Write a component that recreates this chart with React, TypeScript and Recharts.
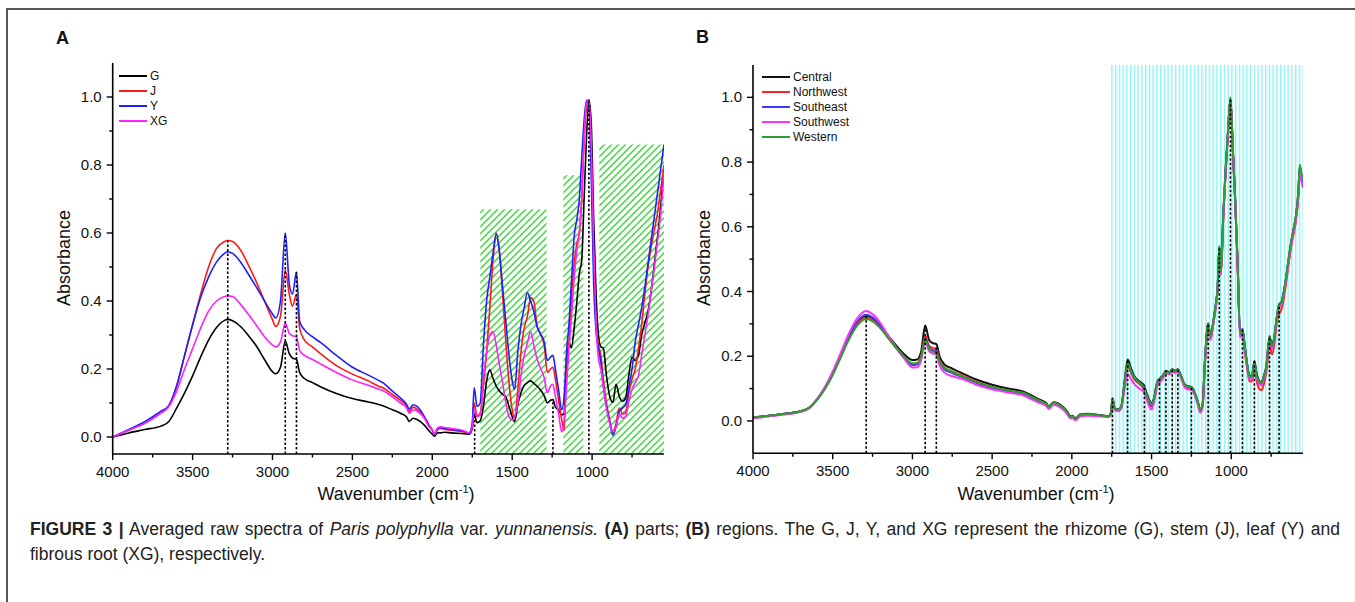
import React from "react";
import {
  LineChart,
  Line,
  XAxis,
  YAxis,
  ReferenceArea,
  ReferenceLine,
  Legend,
} from "recharts";

const FONT = '"Liberation Sans", Arial, Helvetica, sans-serif';

// ---- panel A: parts (G rhizome, J stem, Y leaf, XG fibrous root) ----
const wnA = [
  4000, 3900, 3800, 3700, 3650, 3600, 3550, 3500, 3450, 3400,
  3350, 3300, 3280, 3250, 3200, 3150, 3100, 3050, 3000, 2980,
  2950, 2920, 2895, 2875, 2850, 2830, 2800, 2750, 2700, 2600,
  2500, 2400, 2330, 2310, 2250, 2200, 2160, 2145, 2120, 2090,
  2050, 2020, 2000, 1985, 1970, 1950, 1920, 1880, 1800, 1770,
  1750, 1738, 1720, 1700, 1680, 1660, 1640, 1620, 1600, 1580,
  1560, 1540, 1520, 1500, 1485, 1465, 1445, 1425, 1405, 1385,
  1365, 1345, 1325, 1300, 1280, 1260, 1245, 1230, 1210, 1190,
  1175, 1160, 1145, 1130, 1110, 1095, 1080, 1065, 1050, 1035,
  1020, 1005, 990, 975, 960, 945, 930, 910, 890, 870,
  850, 830, 810, 790, 770, 750, 730, 710, 690, 670,
  650, 630, 610, 590, 570, 550,
];

const gA = [
  0.000, 0.012, 0.022, 0.032, 0.045, 0.085, 0.130, 0.180, 0.235, 0.285,
  0.322, 0.343, 0.346, 0.342, 0.325, 0.298, 0.267, 0.228, 0.192, 0.186,
  0.205, 0.282, 0.245, 0.232, 0.228, 0.190, 0.172, 0.160, 0.148, 0.128,
  0.113, 0.103, 0.095, 0.092, 0.080, 0.070, 0.058, 0.046, 0.055, 0.050,
  0.035, 0.018, 0.008, 0.002, 0.012, 0.012, 0.014, 0.012, 0.010, 0.008,
  0.025, 0.068, 0.042, 0.048, 0.090, 0.165, 0.198, 0.172, 0.150, 0.135,
  0.125, 0.118, 0.090, 0.060, 0.045, 0.095, 0.130, 0.152, 0.160, 0.165,
  0.158, 0.150, 0.140, 0.122, 0.100, 0.108, 0.110, 0.088, 0.080, 0.065,
  0.070, 0.200, 0.280, 0.262, 0.330, 0.400, 0.480, 0.520, 0.700, 0.880,
  0.992, 0.920, 0.640, 0.420, 0.300, 0.265, 0.262, 0.180, 0.120, 0.102,
  0.155, 0.120, 0.105, 0.115, 0.182, 0.235, 0.225, 0.240, 0.300, 0.335,
  0.370, 0.430, 0.510, 0.590, 0.680, 0.790,
];

const jA = [
  0.000, 0.020, 0.040, 0.070, 0.090, 0.150, 0.240, 0.330, 0.420, 0.500,
  0.555, 0.575, 0.578, 0.575, 0.550, 0.505, 0.455, 0.400, 0.345, 0.325,
  0.355, 0.490, 0.420, 0.385, 0.420, 0.320, 0.285, 0.265, 0.245, 0.210,
  0.185, 0.165, 0.148, 0.145, 0.125, 0.108, 0.090, 0.075, 0.088, 0.080,
  0.060, 0.035, 0.020, 0.005, 0.020, 0.025, 0.022, 0.020, 0.015, 0.012,
  0.035, 0.100, 0.062, 0.070, 0.150, 0.250, 0.380, 0.520, 0.600, 0.545,
  0.420, 0.280, 0.160, 0.080, 0.055, 0.140, 0.250, 0.320, 0.355, 0.410,
  0.400, 0.330, 0.305, 0.270, 0.190, 0.200, 0.205, 0.170, 0.110, 0.050,
  0.020, 0.200, 0.280, 0.400, 0.520, 0.570, 0.600, 0.700, 0.870, 0.970,
  0.993, 0.820, 0.520, 0.330, 0.270, 0.240, 0.170, 0.100, 0.050, 0.008,
  0.040, 0.085, 0.068, 0.072, 0.130, 0.170, 0.200, 0.260, 0.330, 0.420,
  0.500, 0.560, 0.610, 0.660, 0.730, 0.800,
];

const yA = [
  0.000, 0.022, 0.045, 0.075, 0.092, 0.150, 0.240, 0.330, 0.410, 0.470,
  0.515, 0.540, 0.545, 0.540, 0.515, 0.478, 0.440, 0.400, 0.362, 0.350,
  0.400, 0.600, 0.450, 0.420, 0.485, 0.340, 0.315, 0.295, 0.278, 0.240,
  0.205, 0.182, 0.165, 0.160, 0.135, 0.115, 0.095, 0.082, 0.095, 0.088,
  0.060, 0.032, 0.020, 0.008, 0.022, 0.028, 0.025, 0.022, 0.016, 0.010,
  0.040, 0.145, 0.090, 0.100, 0.270, 0.400, 0.470, 0.540, 0.596, 0.545,
  0.440, 0.340, 0.240, 0.165, 0.140, 0.250, 0.330, 0.380, 0.425, 0.400,
  0.370, 0.325, 0.305, 0.280, 0.225, 0.235, 0.240, 0.200, 0.140, 0.080,
  0.120, 0.250, 0.330, 0.450, 0.600, 0.640, 0.700, 0.820, 0.930, 0.990,
  0.985, 0.760, 0.450, 0.310, 0.260, 0.220, 0.150, 0.090, 0.045, 0.005,
  0.030, 0.075, 0.085, 0.095, 0.145, 0.200, 0.280, 0.330, 0.380, 0.440,
  0.510, 0.580, 0.650, 0.720, 0.790, 0.860,
];

const xgA = [
  0.000, 0.020, 0.040, 0.070, 0.088, 0.135, 0.200, 0.260, 0.320, 0.370,
  0.400, 0.413, 0.415, 0.413, 0.390, 0.360, 0.328, 0.295, 0.270, 0.265,
  0.280, 0.335, 0.305, 0.298, 0.295, 0.255, 0.240, 0.228, 0.215, 0.190,
  0.168, 0.152, 0.140, 0.137, 0.118, 0.100, 0.085, 0.070, 0.080, 0.075,
  0.055, 0.030, 0.022, 0.010, 0.025, 0.030, 0.028, 0.025, 0.018, 0.012,
  0.030, 0.080, 0.060, 0.065, 0.170, 0.250, 0.300, 0.310, 0.270, 0.210,
  0.160, 0.100, 0.060, 0.050, 0.060, 0.100, 0.180, 0.240, 0.275, 0.310,
  0.270, 0.230, 0.205, 0.175, 0.130, 0.150, 0.155, 0.120, 0.070, 0.015,
  0.050, 0.150, 0.260, 0.350, 0.480, 0.550, 0.600, 0.700, 0.880, 0.985,
  0.990, 0.860, 0.550, 0.330, 0.230, 0.200, 0.150, 0.085, 0.040, 0.015,
  0.030, 0.070, 0.055, 0.060, 0.105, 0.140, 0.160, 0.180, 0.240, 0.300,
  0.360, 0.430, 0.500, 0.580, 0.660, 0.780,
];

const seriesA = ["G", "J", "Y", "XG"];
const colorsA = ["#000000", "#ff1a1a", "#1f1fff", "#ff22ff"];

// hatched bands and marked peaks in A
const hatchFrom = [1700, 1180, 955];
const hatchTo = [1285, 1055, 550];
const hatchTop = [0.67, 0.77, 0.86];
const peaksA = [3280, 2920, 2850, 1735, 1245, 1020];
const peakTopA = [0.578, 0.6, 0.485, 0.068, 0.11, 0.992];

// ---- panel B: regions ----
const wnB = [
  4000, 3900, 3800, 3700, 3650, 3600, 3550, 3500, 3450, 3400,
  3350, 3290, 3250, 3200, 3150, 3100, 3050, 3000, 2970, 2945,
  2920, 2895, 2870, 2850, 2830, 2800, 2750, 2700, 2600, 2500,
  2400, 2330, 2310, 2250, 2200, 2160, 2145, 2115, 2090, 2060,
  2030, 2010, 1995, 1980, 1965, 1950, 1900, 1820, 1770, 1755,
  1745, 1730, 1710, 1690, 1670, 1650, 1630, 1610, 1590, 1570,
  1550, 1530, 1515, 1500, 1485, 1465, 1450, 1430, 1410, 1390,
  1370, 1350, 1335, 1315, 1295, 1275, 1250, 1230, 1210, 1195,
  1180, 1165, 1145, 1130, 1115, 1100, 1085, 1075, 1065, 1050,
  1035, 1020, 1005, 990, 975, 960, 945, 930, 915, 900,
  885, 870, 855, 840, 825, 810, 795, 780, 760, 745,
  730, 715, 700, 685, 670, 655, 640, 625, 610, 595,
  580, 570, 560, 550,
];

const central = [
  0.010, 0.016, 0.022, 0.030, 0.040, 0.065, 0.100, 0.145, 0.200, 0.255,
  0.300, 0.325, 0.318, 0.295, 0.262, 0.232, 0.205, 0.188, 0.190, 0.215,
  0.295, 0.250, 0.240, 0.238, 0.200, 0.175, 0.162, 0.150, 0.128, 0.112,
  0.100, 0.094, 0.092, 0.078, 0.065, 0.055, 0.045, 0.058, 0.055, 0.045,
  0.030, 0.015, 0.016, 0.008, 0.012, 0.020, 0.022, 0.018, 0.015, 0.025,
  0.070, 0.038, 0.036, 0.045, 0.120, 0.190, 0.165, 0.140, 0.128, 0.120,
  0.112, 0.085, 0.065, 0.055, 0.070, 0.120, 0.130, 0.140, 0.155, 0.150,
  0.160, 0.155, 0.160, 0.140, 0.115, 0.108, 0.105, 0.088, 0.060, 0.035,
  0.050, 0.190, 0.302, 0.262, 0.300, 0.350, 0.420, 0.540, 0.460, 0.640,
  0.780, 0.900, 0.998, 0.840, 0.680, 0.490, 0.270, 0.282, 0.230, 0.175,
  0.138, 0.140, 0.185, 0.145, 0.125, 0.120, 0.140, 0.170, 0.262, 0.235,
  0.260, 0.320, 0.360, 0.368, 0.400, 0.446, 0.500, 0.550, 0.590, 0.630,
  0.700, 0.787, 0.760, 0.735,
];

const northwest = [
  0.010, 0.016, 0.022, 0.030, 0.040, 0.066, 0.102, 0.148, 0.202, 0.255,
  0.298, 0.320, 0.312, 0.288, 0.255, 0.224, 0.196, 0.176, 0.178, 0.200,
  0.265, 0.232, 0.225, 0.222, 0.188, 0.165, 0.153, 0.142, 0.121, 0.105,
  0.094, 0.088, 0.087, 0.073, 0.061, 0.051, 0.042, 0.055, 0.052, 0.042,
  0.028, 0.013, 0.014, 0.006, 0.010, 0.018, 0.020, 0.017, 0.014, 0.023,
  0.065, 0.036, 0.034, 0.042, 0.110, 0.170, 0.150, 0.130, 0.120, 0.112,
  0.100, 0.075, 0.052, 0.045, 0.062, 0.112, 0.122, 0.135, 0.150, 0.146,
  0.154, 0.150, 0.155, 0.136, 0.110, 0.102, 0.100, 0.084, 0.055, 0.030,
  0.045, 0.180, 0.290, 0.255, 0.292, 0.342, 0.412, 0.530, 0.452, 0.630,
  0.772, 0.892, 0.995, 0.836, 0.672, 0.480, 0.262, 0.270, 0.215, 0.160,
  0.122, 0.122, 0.165, 0.122, 0.100, 0.095, 0.115, 0.150, 0.240, 0.205,
  0.235, 0.300, 0.330, 0.345, 0.380, 0.430, 0.485, 0.535, 0.575, 0.615,
  0.690, 0.770, 0.745, 0.730,
];

const southeast = [
  0.010, 0.016, 0.022, 0.030, 0.040, 0.066, 0.102, 0.150, 0.205, 0.260,
  0.305, 0.328, 0.320, 0.295, 0.258, 0.225, 0.194, 0.172, 0.174, 0.196,
  0.255, 0.225, 0.218, 0.215, 0.182, 0.160, 0.148, 0.138, 0.118, 0.102,
  0.092, 0.086, 0.085, 0.071, 0.060, 0.050, 0.041, 0.054, 0.051, 0.041,
  0.027, 0.012, 0.013, 0.006, 0.010, 0.018, 0.020, 0.017, 0.014, 0.023,
  0.066, 0.036, 0.034, 0.043, 0.112, 0.175, 0.155, 0.135, 0.125, 0.116,
  0.106, 0.080, 0.058, 0.050, 0.066, 0.116, 0.126, 0.137, 0.152, 0.148,
  0.157, 0.152, 0.157, 0.138, 0.113, 0.106, 0.103, 0.086, 0.058, 0.033,
  0.048, 0.186, 0.298, 0.260, 0.298, 0.348, 0.418, 0.536, 0.458, 0.636,
  0.776, 0.896, 0.995, 0.838, 0.676, 0.486, 0.268, 0.285, 0.228, 0.172,
  0.135, 0.135, 0.180, 0.140, 0.120, 0.115, 0.135, 0.165, 0.255, 0.228,
  0.255, 0.315, 0.355, 0.365, 0.398, 0.444, 0.498, 0.548, 0.588, 0.628,
  0.698, 0.780, 0.752, 0.730,
];

const southwest = [
  0.008, 0.014, 0.020, 0.028, 0.038, 0.066, 0.104, 0.152, 0.210, 0.268,
  0.315, 0.340, 0.330, 0.302, 0.262, 0.226, 0.192, 0.165, 0.166, 0.188,
  0.245, 0.215, 0.208, 0.205, 0.172, 0.150, 0.138, 0.132, 0.112, 0.098,
  0.088, 0.082, 0.080, 0.066, 0.055, 0.046, 0.037, 0.050, 0.047, 0.037,
  0.022, 0.008, 0.010, 0.002, 0.006, 0.014, 0.016, 0.014, 0.012, 0.020,
  0.060, 0.032, 0.030, 0.038, 0.095, 0.145, 0.130, 0.115, 0.105, 0.098,
  0.090, 0.065, 0.045, 0.035, 0.055, 0.105, 0.118, 0.130, 0.148, 0.144,
  0.152, 0.148, 0.152, 0.132, 0.106, 0.098, 0.096, 0.080, 0.050, 0.025,
  0.040, 0.175, 0.280, 0.250, 0.290, 0.340, 0.410, 0.528, 0.450, 0.628,
  0.770, 0.892, 0.995, 0.834, 0.670, 0.478, 0.258, 0.270, 0.220, 0.165,
  0.128, 0.130, 0.170, 0.132, 0.115, 0.110, 0.130, 0.160, 0.250, 0.222,
  0.250, 0.310, 0.350, 0.360, 0.392, 0.436, 0.488, 0.540, 0.580, 0.620,
  0.688, 0.770, 0.740, 0.720,
];

const western = [
  0.010, 0.016, 0.022, 0.030, 0.040, 0.064, 0.098, 0.142, 0.196, 0.250,
  0.292, 0.315, 0.308, 0.286, 0.255, 0.226, 0.198, 0.178, 0.179, 0.200,
  0.250, 0.222, 0.214, 0.210, 0.184, 0.164, 0.152, 0.140, 0.120, 0.105,
  0.095, 0.089, 0.088, 0.074, 0.062, 0.052, 0.043, 0.056, 0.053, 0.043,
  0.028, 0.013, 0.014, 0.006, 0.010, 0.019, 0.021, 0.017, 0.014, 0.024,
  0.068, 0.037, 0.035, 0.044, 0.115, 0.180, 0.158, 0.136, 0.125, 0.116,
  0.107, 0.080, 0.060, 0.052, 0.068, 0.118, 0.128, 0.138, 0.153, 0.149,
  0.158, 0.153, 0.158, 0.139, 0.114, 0.107, 0.104, 0.087, 0.059, 0.034,
  0.049, 0.188, 0.300, 0.262, 0.300, 0.350, 0.420, 0.540, 0.462, 0.642,
  0.782, 0.902, 1.000, 0.842, 0.680, 0.488, 0.270, 0.282, 0.230, 0.175,
  0.136, 0.138, 0.178, 0.140, 0.122, 0.118, 0.138, 0.168, 0.258, 0.232,
  0.258, 0.318, 0.358, 0.366, 0.400, 0.448, 0.502, 0.552, 0.592, 0.634,
  0.705, 0.792, 0.765, 0.745,
];

const seriesB = ["Central", "Northwest", "Southeast", "Southwest", "Western"];
const colorsB = ["#111111", "#ff2222", "#3a3aff", "#ff33ff", "#2e9e2e"];

const stripeFrom = 1755;
const peaksB = [3290, 2920, 2850, 1745, 1650, 1545, 1450, 1410, 1370, 1335, 1250, 1145, 1075, 1005, 930, 855, 760, 700];
const peakTopB = [0.33, 0.295, 0.238, 0.07, 0.19, 0.112, 0.13, 0.155, 0.16, 0.16, 0.105, 0.302, 0.54, 0.998, 0.282, 0.185, 0.262, 0.36];

// ticks
const xTicks = [4000, 3750, 3500, 3250, 3000, 2750, 2500, 2250, 2000, 1750, 1500, 1250, 1000, 750];
const yTicks = [0, 0.1, 0.2, 0.3, 0.4, 0.5, 0.6, 0.7, 0.8, 0.9, 1.0];

const dataA = wnA.map((w, i) => ({ w, G: gA[i], J: jA[i], Y: yA[i], XG: xgA[i] }));
const dataB = wnB.map((w, i) => ({
  w,
  Central: central[i],
  Northwest: northwest[i],
  Southeast: southeast[i],
  Southwest: southwest[i],
  Western: western[i],
}));

const XTick = (props: any) => {
  const { x, y, payload } = props;
  const major = payload.value % 500 === 0;
  return (
    <g>
      <line x1={x} x2={x} y1={y} y2={y + (major ? 6 : 3.5)} stroke="#000" strokeWidth={1.4} />
      {major && (
        <text x={x} y={y + 23} textAnchor="middle" fontSize={15} fontFamily={FONT} fill="#111">
          {payload.value}
        </text>
      )}
    </g>
  );
};

const YTick = (props: any) => {
  const { x, y, payload } = props;
  const major = Math.round(payload.value * 10) % 2 === 0;
  return (
    <g>
      <line x1={x} x2={x - (major ? 6 : 3.5)} y1={y} y2={y} stroke="#000" strokeWidth={1.4} />
      {major && (
        <text x={x - 11} y={y + 5} textAnchor="end" fontSize={15} fontFamily={FONT} fill="#111">
          {payload.value.toFixed(1)}
        </text>
      )}
    </g>
  );
};

// legend keeps the series order instead of sorting by name
const makeLegend = (order: string[]) => (props: any) => {
  const items = [...(props.payload || [])].sort(
    (a: any, b: any) => order.indexOf(a.value) - order.indexOf(b.value)
  );
  return (
    <div style={{ fontFamily: FONT, fontSize: 12, lineHeight: "15px", color: "#111" }}>
      {items.map((e: any) => (
        <div key={e.value} style={{ display: "flex", alignItems: "center", whiteSpace: "nowrap" }}>
          <span style={{ display: "inline-block", width: 28, height: 2, background: e.color, marginRight: 3 }} />
          {e.value}
        </div>
      ))}
    </div>
  );
};

const axisProps = { stroke: "#000", strokeWidth: 1.6 };

const title: React.CSSProperties = {
  position: "absolute",
  fontFamily: FONT,
  color: "#111",
  whiteSpace: "nowrap",
};

export default function App() {
  return (
    <div
      style={{
        position: "absolute",
        left: 0,
        top: 0,
        width: 1355,
        height: 602,
        background: "#fff",
        overflow: "hidden",
      }}
    >
      <div
        style={{
          position: "absolute",
          left: 6,
          top: 8,
          width: 1360,
          height: 600,
          borderTop: "2px solid #555",
          borderLeft: "2px solid #555",
        }}
      />

      {/* panel A */}
      <div style={{ ...title, left: 56, top: 28, fontSize: 18, fontWeight: 700, lineHeight: "20px" }}>A</div>
      <div style={{ position: "absolute", left: 0, top: 0 }}>
        <LineChart
          width={680}
          height={520}
          data={dataA}
          margin={{ top: 63, right: 16, bottom: 26, left: 52.7 }}
        >
          <defs>
            <pattern id="greenHatch" width="7" height="7" patternUnits="userSpaceOnUse">
              <path d="M0,7 L7,0 M-1,1 L1,-1 M6,8 L8,6" stroke="#3fd83f" strokeWidth={1.5} />
            </pattern>
          </defs>
          {hatchFrom.map((f, i) => (
            <ReferenceArea
              key={f}
              x1={f}
              x2={hatchTo[i]}
              y1={-0.05}
              y2={hatchTop[i]}
              fill="url(#greenHatch)"
              fillOpacity={1}
              stroke="none"
            />
          ))}
          <XAxis
            dataKey="w"
            type="number"
            domain={[550, 4000]}
            reversed
            allowDataOverflow
            ticks={xTicks}
            interval={0}
            tick={<XTick />}
            tickLine={false}
            tickSize={0}
            tickMargin={0}
            height={40}
            axisLine={axisProps}
          />
          <XAxis
            xAxisId="top"
            orientation="top"
            type="number"
            domain={[550, 4000]}
            reversed
            height={0}
            tick={false}
            tickLine={false}
            axisLine={axisProps}
          />
          <YAxis
            type="number"
            domain={[-0.05, 1.1]}
            allowDataOverflow
            ticks={yTicks}
            interval={0}
            tick={<YTick />}
            tickLine={false}
            tickSize={0}
            tickMargin={0}
            width={60}
            axisLine={axisProps}
          />
          <YAxis
            yAxisId="right"
            orientation="right"
            type="number"
            domain={[-0.05, 1.1]}
            width={0}
            tick={false}
            tickLine={false}
            axisLine={axisProps}
          />
          {seriesA.map((s, i) => (
            <Line
              key={s}
              dataKey={s}
              name={s}
              stroke={colorsA[i]}
              strokeWidth={1.6}
              dot={false}
              type="monotone"
              isAnimationActive={false}
            />
          ))}
          {peaksA.map((p, i) => (
            <ReferenceLine
              key={p}
              segment={[
                { x: p, y: -0.05 },
                { x: p, y: peakTopA[i] },
              ]}
              stroke="#000"
              strokeWidth={1.6}
              strokeDasharray="2.5 2"
            />
          ))}
          <Legend
            layout="vertical"
            align="center"
            verticalAlign="middle"
            content={makeLegend(seriesA)}
            wrapperStyle={{ left: 119, top: 68.5, width: "auto", height: "auto" }}
          />
        </LineChart>
      </div>
      <div
        style={{
          ...title,
          left: 64,
          top: 258,
          fontSize: 18,
          transform: "translate(-50%, -50%) rotate(-90deg)",
        }}
      >
        Absorbance
      </div>
      <div style={{ ...title, left: 396, top: 494, fontSize: 18, transform: "translate(-50%, -50%)" }}>
        Wavenumber (cm<sup style={{ fontSize: 11 }}>-1</sup>)
      </div>

      {/* panel B */}
      <div style={{ ...title, left: 696, top: 27, fontSize: 18, fontWeight: 700, lineHeight: "20px" }}>B</div>
      <div style={{ position: "absolute", left: 680, top: 0 }}>
        <LineChart
          width={675}
          height={520}
          data={dataB}
          margin={{ top: 65, right: 52, bottom: 26.7, left: 13 }}
        >
          <defs>
            <pattern id="cyanStripes" width="3.75" height="10" patternUnits="userSpaceOnUse">
              <rect x="0" y="0" width="1.4" height="10" fill="#8ef2f2" />
            </pattern>
          </defs>
          <ReferenceArea
            x1={stripeFrom}
            x2={550}
            y1={-0.1}
            y2={1.1}
            fill="url(#cyanStripes)"
            fillOpacity={1}
            stroke="none"
          />
          <XAxis
            dataKey="w"
            type="number"
            domain={[550, 4000]}
            reversed
            allowDataOverflow
            ticks={xTicks}
            interval={0}
            tick={<XTick />}
            tickLine={false}
            tickSize={0}
            tickMargin={0}
            height={40}
            axisLine={axisProps}
          />
          <XAxis
            xAxisId="top"
            orientation="top"
            type="number"
            domain={[550, 4000]}
            reversed
            height={0}
            tick={false}
            tickLine={false}
            axisLine={axisProps}
          />
          <YAxis
            type="number"
            domain={[-0.1, 1.1]}
            allowDataOverflow
            ticks={yTicks}
            interval={0}
            tick={<YTick />}
            tickLine={false}
            tickSize={0}
            tickMargin={0}
            width={60}
            axisLine={axisProps}
          />
          <YAxis
            yAxisId="right"
            orientation="right"
            type="number"
            domain={[-0.1, 1.1]}
            width={0}
            tick={false}
            tickLine={false}
            axisLine={axisProps}
          />
          {seriesB.map((s, i) => (
            <Line
              key={s}
              dataKey={s}
              name={s}
              stroke={colorsB[i]}
              strokeWidth={2}
              dot={false}
              type="monotone"
              isAnimationActive={false}
            />
          ))}
          {peaksB.map((p, i) => (
            <ReferenceLine
              key={p}
              segment={[
                { x: p, y: -0.1 },
                { x: p, y: peakTopB[i] },
              ]}
              stroke="#000"
              strokeWidth={1.6}
              strokeDasharray="2.5 2"
            />
          ))}
          <Legend
            layout="vertical"
            align="center"
            verticalAlign="middle"
            content={makeLegend(seriesB)}
            wrapperStyle={{ left: 82, top: 69.5, width: "auto", height: "auto" }}
          />
        </LineChart>
      </div>
      <div
        style={{
          ...title,
          left: 704,
          top: 258,
          fontSize: 18,
          transform: "translate(-50%, -50%) rotate(-90deg)",
        }}
      >
        Absorbance
      </div>
      <div style={{ ...title, left: 1036, top: 494, fontSize: 18, transform: "translate(-50%, -50%)" }}>
        Wavenumber (cm<sup style={{ fontSize: 11 }}>-1</sup>)
      </div>

      {/* caption: first line justified to the full width */}
      <div style={{ position: "absolute", left: 30, top: 517, width: 1310, fontFamily: FONT, fontSize: 17.5, lineHeight: "25px", color: "#222" }}>
        <div style={{ textAlign: "justify", textAlignLast: "justify", whiteSpace: "nowrap" }}>
          <b>FIGURE 3 |</b> Averaged raw spectra of <i>Paris polyphylla</i> var. <i>yunnanensis.</i>{" "}
          <b>(A)</b> parts; <b>(B)</b> regions. The G, J, Y, and XG represent the rhizome (G), stem (J), leaf (Y) and
        </div>
        <div>fibrous root (XG), respectively.</div>
      </div>
    </div>
  );
}
